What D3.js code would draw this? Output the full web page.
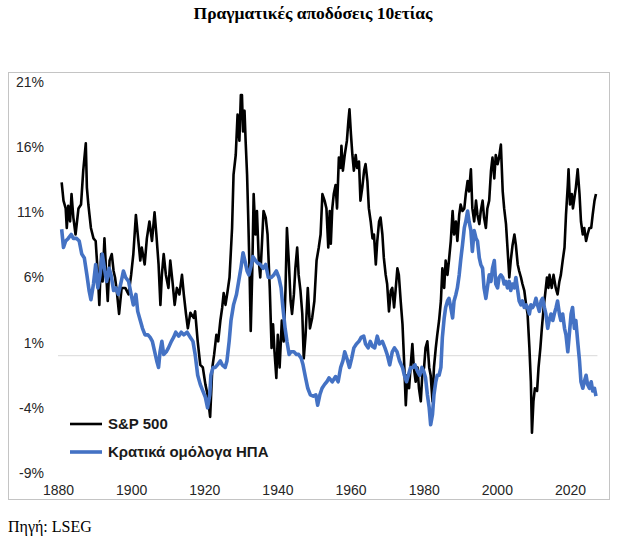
<!DOCTYPE html>
<html>
<head>
<meta charset="utf-8">
<script src="https://cdn.jsdelivr.net/npm/d3@7"></script>
<style>
  body { margin: 0; background: #fff; }
  svg { display: block; }
</style>
</head>
<body>
<script>
const spYears = [1881.0,1881.5,1882.1,1882.4,1882.8,1883.3,1883.7,1884.2,1884.8,1885.6,1886.3,1886.9,1887.6,1887.9,1888.3,1889.0,1889.7,1890.3,1890.9,1891.3,1891.8,1892.2,1892.7,1893.2,1893.6,1894.1,1894.7,1895.2,1895.6,1896.1,1896.7,1897.4,1898.4,1899.3,1900.0,1900.6,1901.3,1901.8,1902.5,1902.9,1903.7,1904.3,1905.0,1905.7,1906.4,1906.9,1907.5,1908.0,1908.4,1908.9,1909.5,1910.2,1910.7,1911.3,1911.9,1912.5,1913.2,1913.9,1914.4,1915.0,1915.5,1916.2,1917.1,1917.5,1918.2,1918.9,1919.6,1920.3,1920.9,1921.6,1922.2,1922.7,1923.3,1923.8,1924.4,1924.9,1925.3,1925.8,1926.4,1926.9,1927.6,1928.0,1928.6,1929.1,1929.6,1930.0,1930.3,1930.6,1931.0,1931.3,1931.7,1932.0,1932.4,1932.7,1933.1,1933.5,1934.0,1934.4,1934.9,1935.3,1935.8,1936.2,1936.8,1937.3,1937.9,1938.4,1938.8,1939.2,1939.7,1940.1,1940.6,1941.2,1941.7,1942.2,1942.6,1943.1,1943.6,1944.0,1944.5,1944.9,1945.4,1945.8,1946.3,1946.8,1947.2,1947.7,1948.3,1948.9,1949.5,1950.1,1950.7,1951.3,1951.8,1952.3,1952.9,1953.4,1953.9,1954.3,1954.6,1955.0,1955.4,1955.9,1956.3,1956.8,1957.3,1957.5,1957.9,1958.4,1959.0,1959.4,1959.7,1960.1,1960.5,1960.9,1961.4,1961.8,1962.3,1962.7,1963.2,1963.7,1964.1,1964.6,1965.0,1965.5,1966.0,1966.4,1966.9,1967.3,1967.8,1968.2,1968.7,1969.1,1969.6,1970.0,1970.5,1971.0,1971.4,1971.9,1972.3,1972.8,1973.2,1973.7,1974.2,1974.6,1975.1,1975.5,1976.0,1976.4,1976.9,1977.3,1977.8,1978.3,1978.7,1979.2,1979.6,1980.1,1980.5,1981.0,1981.5,1981.9,1982.4,1982.8,1983.3,1983.7,1984.2,1984.7,1985.1,1985.6,1986.0,1986.5,1986.9,1987.4,1987.9,1988.3,1988.8,1989.2,1989.7,1990.1,1990.6,1991.1,1991.5,1992.0,1992.4,1992.9,1993.3,1993.8,1994.3,1994.7,1995.2,1995.6,1996.1,1996.5,1997.0,1997.4,1997.9,1998.4,1998.8,1999.3,1999.7,2000.2,2000.6,2001.1,2001.6,2002.0,2002.5,2002.9,2003.4,2003.8,2004.3,2004.8,2005.2,2005.7,2006.1,2006.6,2007.0,2007.5,2008.0,2008.4,2008.9,2009.3,2009.6,2010.0,2010.4,2011.0,2011.4,2011.9,2012.3,2012.8,2013.2,2013.7,2014.1,2014.4,2015.0,2015.5,2016.1,2016.6,2017.1,2017.5,2018.0,2018.5,2018.9,2019.4,2019.6,2020.0,2020.5,2020.8,2021.2,2021.6,2022.1,2022.6,2023.0,2023.5,2023.9,2024.4,2024.8,2025.3,2025.8,2026.2,2026.7,2027.1];
const spValues = [13.3,11.9,11.3,9.8,11.5,10.3,12.4,10.6,9.3,11.3,11.6,14.2,16.3,12.9,11.6,9.8,9.0,8.8,6.2,3.9,7.8,5.7,9.0,6.2,4.2,7.3,7.8,6.5,6.0,4.9,3.2,5.2,5.2,4.7,6.2,7.8,10.8,9.3,7.3,8.3,7.0,9.0,10.3,8.8,11.0,9.3,7.0,3.9,6.2,7.8,6.2,5.2,7.3,5.7,3.9,5.2,4.7,6.2,4.7,3.2,2.1,3.3,2.9,3.4,1.1,-0.7,-0.9,-2.2,-3.0,-4.7,-0.9,0.1,1.6,1.1,2.7,3.7,4.8,3.9,5.0,6.0,9.8,13.9,15.4,18.5,16.5,20.0,20.0,17.2,18.8,16.5,13.9,10.8,6.2,1.9,6.2,12.4,9.3,11.1,7.3,6.0,8.8,11.1,10.6,9.3,5.2,0.6,2.4,0.3,-1.7,1.6,-0.9,2.7,1.1,5.0,9.8,7.3,4.2,3.2,4.7,6.7,8.3,6.2,5.0,3.2,-0.2,1.6,5.2,2.1,2.9,4.2,7.3,8.3,9.3,12.4,11.9,11.3,8.3,11.1,8.6,11.3,12.4,13.1,11.3,15.2,14.4,16.1,14.2,15.4,16.5,18.0,18.9,17.0,15.4,14.2,15.4,14.4,14.9,11.9,12.9,14.2,14.7,13.4,11.3,10.3,9.0,9.3,7.0,8.8,10.3,10.6,9.3,7.5,6.2,5.5,3.4,5.0,5.2,3.7,5.0,6.7,6.2,4.2,2.4,-0.2,-3.8,-1.5,-2.5,-0.9,0.9,-0.9,-2.0,-0.9,-2.5,-3.5,-1.5,-0.9,0.6,1.1,-0.9,-1.5,-3.5,-0.9,0.6,1.6,2.7,4.2,6.7,5.2,7.3,6.2,7.3,8.8,11.1,9.3,10.3,8.8,10.8,11.6,11.1,11.3,12.4,13.4,12.6,14.3,11.3,10.3,11.9,10.8,10.1,11.1,11.9,10.6,9.8,11.3,11.9,14.2,15.2,13.6,15.4,14.7,15.2,16.2,12.6,11.3,10.1,8.3,6.0,7.3,8.5,9.3,8.5,7.0,6.5,6.0,5.5,5.0,3.9,3.2,0.6,-2.0,-5.9,-3.5,-2.5,-2.7,-0.9,0.6,2.1,3.7,4.7,6.0,5.2,6.2,5.2,6.2,5.2,4.7,5.7,6.2,7.3,8.3,10.8,13.1,14.3,11.6,12.4,11.3,12.1,12.9,14.3,12.4,10.3,9.3,9.8,8.8,9.3,9.8,9.8,10.8,11.9,12.4];

const bondYears = [1881.0,1881.5,1882.1,1882.8,1883.6,1884.2,1885.1,1885.8,1886.5,1887.2,1887.9,1888.5,1889.0,1889.7,1890.3,1890.9,1891.5,1892.1,1892.7,1893.3,1894.0,1894.5,1895.2,1895.8,1896.5,1897.3,1897.9,1898.5,1899.3,1900.0,1900.6,1901.3,1901.8,1902.5,1903.1,1903.8,1904.6,1905.2,1905.8,1906.6,1907.0,1907.5,1907.9,1908.4,1908.9,1909.6,1910.2,1911.0,1911.6,1912.2,1913.0,1913.7,1914.4,1915.3,1916.2,1916.9,1917.5,1918.2,1918.9,1919.6,1920.3,1920.9,1921.5,1921.8,1922.4,1923.0,1923.6,1924.4,1924.9,1925.7,1926.2,1926.8,1927.3,1928.0,1928.8,1929.4,1930.0,1930.6,1931.1,1931.7,1932.2,1932.9,1933.3,1934.0,1934.6,1935.3,1936.1,1936.8,1937.5,1938.3,1939.0,1939.7,1940.4,1941.0,1941.5,1942.1,1942.6,1943.2,1943.7,1944.5,1945.2,1945.8,1946.5,1947.0,1947.7,1948.3,1949.0,1949.8,1950.5,1951.0,1951.6,1952.2,1952.9,1953.5,1954.1,1955.0,1955.9,1956.6,1957.3,1957.9,1958.4,1959.1,1959.7,1960.3,1960.9,1961.6,1962.3,1962.9,1963.6,1964.1,1964.8,1965.4,1966.0,1966.6,1967.3,1967.9,1968.7,1969.4,1970.0,1970.7,1971.4,1972.0,1972.7,1973.4,1974.2,1974.7,1975.3,1975.8,1976.4,1977.1,1977.6,1978.3,1978.9,1979.5,1980.0,1980.5,1981.0,1981.5,1981.9,1982.4,1982.8,1983.3,1983.7,1984.2,1984.7,1985.1,1985.6,1986.0,1986.5,1986.9,1987.4,1987.9,1988.3,1988.8,1989.2,1989.7,1990.1,1990.6,1991.1,1991.5,1992.0,1992.4,1992.9,1993.3,1993.8,1994.3,1994.7,1995.2,1995.6,1996.1,1996.5,1997.0,1997.4,1997.9,1998.4,1998.8,1999.3,1999.7,2000.2,2000.6,2001.1,2001.6,2002.0,2002.5,2002.9,2003.4,2003.8,2004.3,2004.8,2005.2,2005.7,2006.1,2006.6,2007.0,2007.5,2008.0,2008.4,2008.9,2009.3,2009.8,2010.2,2010.7,2011.1,2011.6,2012.1,2012.5,2013.0,2013.4,2013.9,2014.3,2014.8,2015.3,2015.7,2016.2,2016.6,2017.1,2017.5,2018.0,2018.5,2018.9,2019.4,2019.8,2020.3,2020.7,2021.2,2021.6,2022.1,2022.6,2023.0,2023.5,2023.9,2024.4,2024.8,2025.3,2025.8,2026.2,2026.7,2027.1];
const bondValues = [9.7,8.3,8.8,9.0,9.3,9.0,9.0,8.8,7.8,7.5,6.2,5.0,4.3,5.5,7.0,5.2,6.2,7.8,6.7,5.7,6.7,6.2,5.0,5.2,4.7,5.7,6.5,6.0,5.7,4.7,3.9,4.7,3.4,2.7,2.1,1.6,1.6,1.4,1.1,0.1,-0.4,-0.9,0.3,1.1,0.1,0.3,0.6,1.1,1.4,1.8,1.5,1.8,1.6,1.8,1.4,1.1,0.1,-1.5,-2.2,-2.7,-3.2,-4.0,-3.0,-1.5,-0.9,-0.9,-0.7,-0.4,-0.7,-0.9,-0.4,1.1,2.7,3.9,4.7,5.7,6.7,7.9,7.3,6.5,6.2,7.0,7.6,7.3,7.1,7.0,6.7,7.0,6.0,6.0,6.2,6.5,6.0,5.2,3.7,2.1,1.1,0.1,0.3,0.3,0.1,0.1,-0.2,-0.7,-1.7,-2.5,-3.0,-3.1,-3.0,-3.8,-3.0,-2.5,-2.2,-2.0,-1.7,-2.0,-1.6,-2.0,-0.9,-0.4,0.3,-0.3,-0.9,-0.2,0.6,0.9,1.1,1.4,1.5,0.9,0.6,1.1,0.7,0.6,1.5,0.9,1.1,0.6,0.1,-0.7,0.3,0.6,0.3,-0.4,-0.9,-1.5,-2.0,-1.5,-0.9,-0.9,-0.7,-1.2,-1.5,-0.9,-1.2,-1.7,-3.0,-4.0,-5.3,-4.5,-3.0,-2.0,-1.5,-1.5,-0.9,1.4,2.9,3.7,4.2,4.4,3.7,2.9,4.2,4.7,5.2,6.2,7.3,8.5,9.8,10.3,11.1,10.3,9.6,8.0,9.6,9.0,8.8,7.5,7.0,6.7,5.2,4.4,5.2,6.2,5.7,6.7,7.3,5.5,5.2,6.0,6.2,6.0,5.5,5.7,5.2,5.7,5.0,5.5,5.2,6.0,5.0,4.2,3.9,4.2,3.7,3.9,3.7,3.2,3.9,3.7,3.9,4.4,3.9,3.4,4.2,4.4,3.7,3.2,2.1,2.7,3.2,2.7,3.2,3.7,4.2,3.2,2.7,3.2,2.1,1.6,0.3,1.6,3.2,3.7,2.1,2.7,1.1,-0.4,-2.0,-2.5,-2.0,-1.5,-2.2,-2.5,-2.0,-2.7,-2.5,-3.1];

const yTicks = [-9, -4, 1, 6, 11, 16, 21];
const xTicks = [1880, 1900, 1920, 1940, 1960, 1980, 2000, 2020];
const seriesNames = ["S&P 500", "Κρατικά ομόλογα ΗΠΑ"];
const seriesColors = ["#000000", "#4472c4"];

const W = 625, H = 543;
const svg = d3.select("body").append("svg").attr("width", W).attr("height", H);

svg.append("text")
  .attr("x", 313).attr("y", 19)
  .attr("text-anchor", "middle")
  .style("font-family", "'Liberation Serif', 'Times New Roman', serif")
  .style("font-weight", "bold").style("font-size", "17.5px")
  .text("Πραγματικές αποδόσεις 10ετίας");

// chart frame
svg.append("rect")
  .attr("x", 8.5).attr("y", 72.5).attr("width", 601).attr("height", 427)
  .attr("fill", "#fff").attr("stroke", "#c4c4c4");

const x = d3.scaleLinear().domain([1880, 2020]).range([58, 570]);
const y = d3.scaleLinear().domain([-9, 21]).range([473, 82]);

const font = "'Liberation Sans', Arial, sans-serif";

const yAxis = svg.append("g").attr("transform", "translate(44,0)")
  .call(d3.axisLeft(y).tickValues(yTicks).tickSize(0).tickPadding(0).tickFormat(d => d + "%"));
const xAxis = svg.append("g").attr("transform", "translate(0,482)")
  .call(d3.axisBottom(x).tickValues(xTicks).tickSize(0).tickPadding(0).tickFormat(d3.format("d")));
[yAxis, xAxis].forEach(a => {
  a.select(".domain").remove();
  a.selectAll("text").style("font-family", font).style("font-size", "14px").attr("fill", "#262626");
});
xAxis.selectAll("text").attr("dy", "0.95em");

// zero line
svg.append("line")
  .attr("x1", 58).attr("x2", x(2027.5))
  .attr("y1", y(0)).attr("y2", y(0))
  .attr("stroke", "#d9d9d9").attr("stroke-width", 1);

const line = d3.line().x(d => x(d[0])).y(d => y(d[1]));
const sp = d3.zip(spYears, spValues);
const bonds = d3.zip(bondYears, bondValues);

svg.append("path").datum(sp)
  .attr("d", line).attr("fill", "none")
  .attr("stroke", seriesColors[0]).attr("stroke-width", 2.6)
  .attr("stroke-linejoin", "round");
svg.append("path").datum(bonds)
  .attr("d", line).attr("fill", "none")
  .attr("stroke", seriesColors[1]).attr("stroke-width", 3.6)
  .attr("stroke-linejoin", "round");

// legend
const leg = svg.append("g");
seriesNames.forEach((name, i) => {
  const ly = 424 + i * 28;
  leg.append("line").attr("x1", 70).attr("x2", 102).attr("y1", ly).attr("y2", ly)
    .attr("stroke", seriesColors[i]).attr("stroke-width", i ? 3.6 : 2.6);
  leg.append("text").attr("x", 108).attr("y", ly + 5)
    .style("font-family", font).style("font-weight", "bold").style("font-size", "15px")
    .attr("fill", "#1a1a1a")
    .text(name);
});

svg.append("text")
  .attr("x", 8).attr("y", 532)
  .style("font-family", "'Liberation Serif', 'Times New Roman', serif")
  .style("font-size", "16px")
  .text("Πηγή: LSEG");
</script>
</body>
</html>
